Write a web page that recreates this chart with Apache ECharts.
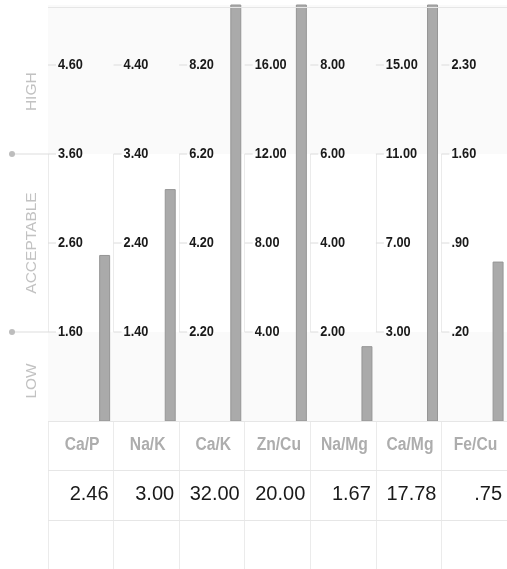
<!DOCTYPE html>
<html>
<head>
<meta charset="utf-8">
<script src="https://cdn.jsdelivr.net/npm/echarts@6/dist/echarts.min.js"></script>
<style>
html,body{margin:0;padding:0;background:#fff;}
#chart{width:507px;height:569px;}
</style>
</head>
<body>
<div id="chart"></div>
<script>
// ---- data ----
const categories = ['Ca/P', 'Na/K', 'Ca/K', 'Zn/Cu', 'Na/Mg', 'Ca/Mg', 'Fe/Cu'];
const values = [2.46, 3.00, 32.00, 20.00, 1.67, 17.78, 0.75];
const level1 = [1.60, 1.40, 2.20, 4.00, 2.00, 3.00, 0.20];
const level2 = [2.60, 2.40, 4.20, 8.00, 4.00, 7.00, 0.90];
const level3 = [3.60, 3.40, 6.20, 12.00, 6.00, 11.00, 1.60];
const level4 = [4.60, 4.40, 8.20, 16.00, 8.00, 15.00, 2.30];
const zoneNames = ['LOW', 'ACCEPTABLE', 'HIGH'];

// ---- layout constants (axis units) ----
const Y_MAX = 416 / 89;
const Y_MIN = -148 / 89;
const HEADER_Y = -0.275;
const VALUE_Y = -0.83;
const LINE1 = -0.55;
const LINE2 = -1.11;
const FONT = '"Liberation Sans", Arial, sans-serif';

function fmt(v) { return v.toFixed(2).replace(/^0\./, '.'); }

// map a raw value to the column's normalized level scale
function normalize(i) {
  const L = [0, level1[i], level2[i], level3[i], level4[i]];
  const v = values[i];
  let n;
  if (v <= L[1]) n = v / L[1];
  else if (v >= L[4]) n = 4 + (v - L[4]) / (L[4] - L[3]);
  else {
    let k = 1;
    while (v > L[k + 1]) k++;
    n = k + (v - L[k]) / (L[k + 1] - L[k]);
  }
  return Math.min(n, Y_MAX);
}

const barData = categories.map((c, i) => [i, normalize(i)]);
const levelData = [];
categories.forEach((c, i) => {
  [level1, level2, level3, level4].forEach((arr, k) => levelData.push([i, k + 1, fmt(arr[i])]));
});
const headerData = categories.map((c, i) => [i, HEADER_Y, c]);
const valueData = values.map((v, i) => [i, VALUE_Y, fmt(v)]);

const chart = echarts.init(document.getElementById('chart'), null, { renderer: 'canvas' });

chart.setOption({
  animation: false,
  backgroundColor: '#fff',
  grid: { left: 48, top: 5, width: 462, height: 564 },
  xAxis: {
    type: 'value', min: 0, max: 7, interval: 1,
    axisLine: { show: false }, axisTick: { show: false }, axisLabel: { show: false },
    splitLine: { show: true, lineStyle: { color: '#ebebeb', width: 1 } }
  },
  yAxis: {
    type: 'value', min: Y_MIN, max: Y_MAX,
    axisLine: { show: false }, axisTick: { show: false }, axisLabel: { show: false },
    splitLine: { show: false }
  },
  series: [
    {
      // zone backgrounds + horizontal rules
      type: 'line', data: [], silent: true,
      markArea: {
        silent: true,
        itemStyle: { color: '#fafafa' },
        data: [
          [{ xAxis: 0, yAxis: 3 }, { xAxis: 7, yAxis: Y_MAX }],
          [{ xAxis: 0, yAxis: 0 }, { xAxis: 7, yAxis: 1 }]
        ]
      },
      markLine: {
        silent: true, symbol: 'none', label: { show: false },
        lineStyle: { type: 'solid', color: '#e6e6e6', width: 1 },
        data: [{ yAxis: 0 }, { yAxis: LINE1 }, { yAxis: LINE2 }, { yAxis: Y_MAX - 0.02 }]
      }
    },
    {
      // bars
      type: 'custom', silent: true, data: barData,
      renderItem: function (params, api) {
        const i = api.value(0);
        const p0 = api.coord([i + 0.788, 0]);
        const p1 = api.coord([i + 0.788 + 0.152, api.value(1)]);
        return {
          type: 'rect',
          shape: { x: p0[0], y: p1[1], width: p1[0] - p0[0], height: p0[1] - p1[1] },
          style: { fill: '#aaaaaa', stroke: '#959595', lineWidth: 1 }
        };
      }
    },
    {
      // level labels with small tick lines
      type: 'custom', silent: true, data: levelData,
      renderItem: function (params, api) {
        const p = api.coord([api.value(0), api.value(1)]);
        return {
          type: 'group',
          children: [
            { type: 'line', shape: { x1: p[0], y1: p[1], x2: p[0] + 8, y2: p[1] },
              style: { stroke: '#dcdcdc', lineWidth: 1 } },
            { type: 'text', x: p[0] + 10, y: p[1], scaleX: 0.85,
              style: { text: levelData[params.dataIndex][2], fill: '#1a1a1a', font: 'bold 15px ' + FONT,
                       textAlign: 'left', textVerticalAlign: 'middle' } }
          ]
        };
      }
    },
    {
      // table header
      type: 'custom', silent: true, data: headerData,
      renderItem: function (params, api) {
        const p = api.coord([api.value(0) + 0.52, api.value(1)]);
        return { type: 'text', x: p[0], y: p[1], scaleX: 0.87,
          style: { text: headerData[params.dataIndex][2], fill: '#adadad', font: 'bold 18px ' + FONT,
                   textAlign: 'center', textVerticalAlign: 'middle' } };
      }
    },
    {
      // table values
      type: 'custom', silent: true, data: valueData,
      renderItem: function (params, api) {
        const p = api.coord([api.value(0) + 1, api.value(1)]);
        return { type: 'text', x: p[0] - 5, y: p[1],
          style: { text: valueData[params.dataIndex][2], fill: '#1a1a1a', font: '20px ' + FONT,
                   textAlign: 'right', textVerticalAlign: 'middle' } };
      }
    },
    {
      // left margin: zone dots and rotated zone names
      type: 'custom', silent: true, clip: false, data: [[0]],
      renderItem: function (params, api) {
        const children = [];
        [1, 3].forEach(function (lv) {
          const p = api.coord([0, lv]);
          children.push({ type: 'line', shape: { x1: p[0] - 36, y1: p[1], x2: p[0], y2: p[1] },
            style: { stroke: '#dddddd', lineWidth: 1 } });
          children.push({ type: 'circle', shape: { cx: p[0] - 36, cy: p[1], r: 3 },
            style: { fill: '#bdbdbd' } });
        });
        const centers = [0.45, 2.0, 3.7];
        zoneNames.forEach(function (name, k) {
          const p = api.coord([0, centers[k]]);
          children.push({ type: 'text', x: p[0] - 16, y: p[1], rotation: Math.PI / 2,
            style: { text: name, fill: '#c2c2c2', font: '15.5px ' + FONT,
                     textAlign: 'center', textVerticalAlign: 'middle' } });
        });
        return { type: 'group', children: children };
      }
    }
  ]
});
</script>
</body>
</html>
